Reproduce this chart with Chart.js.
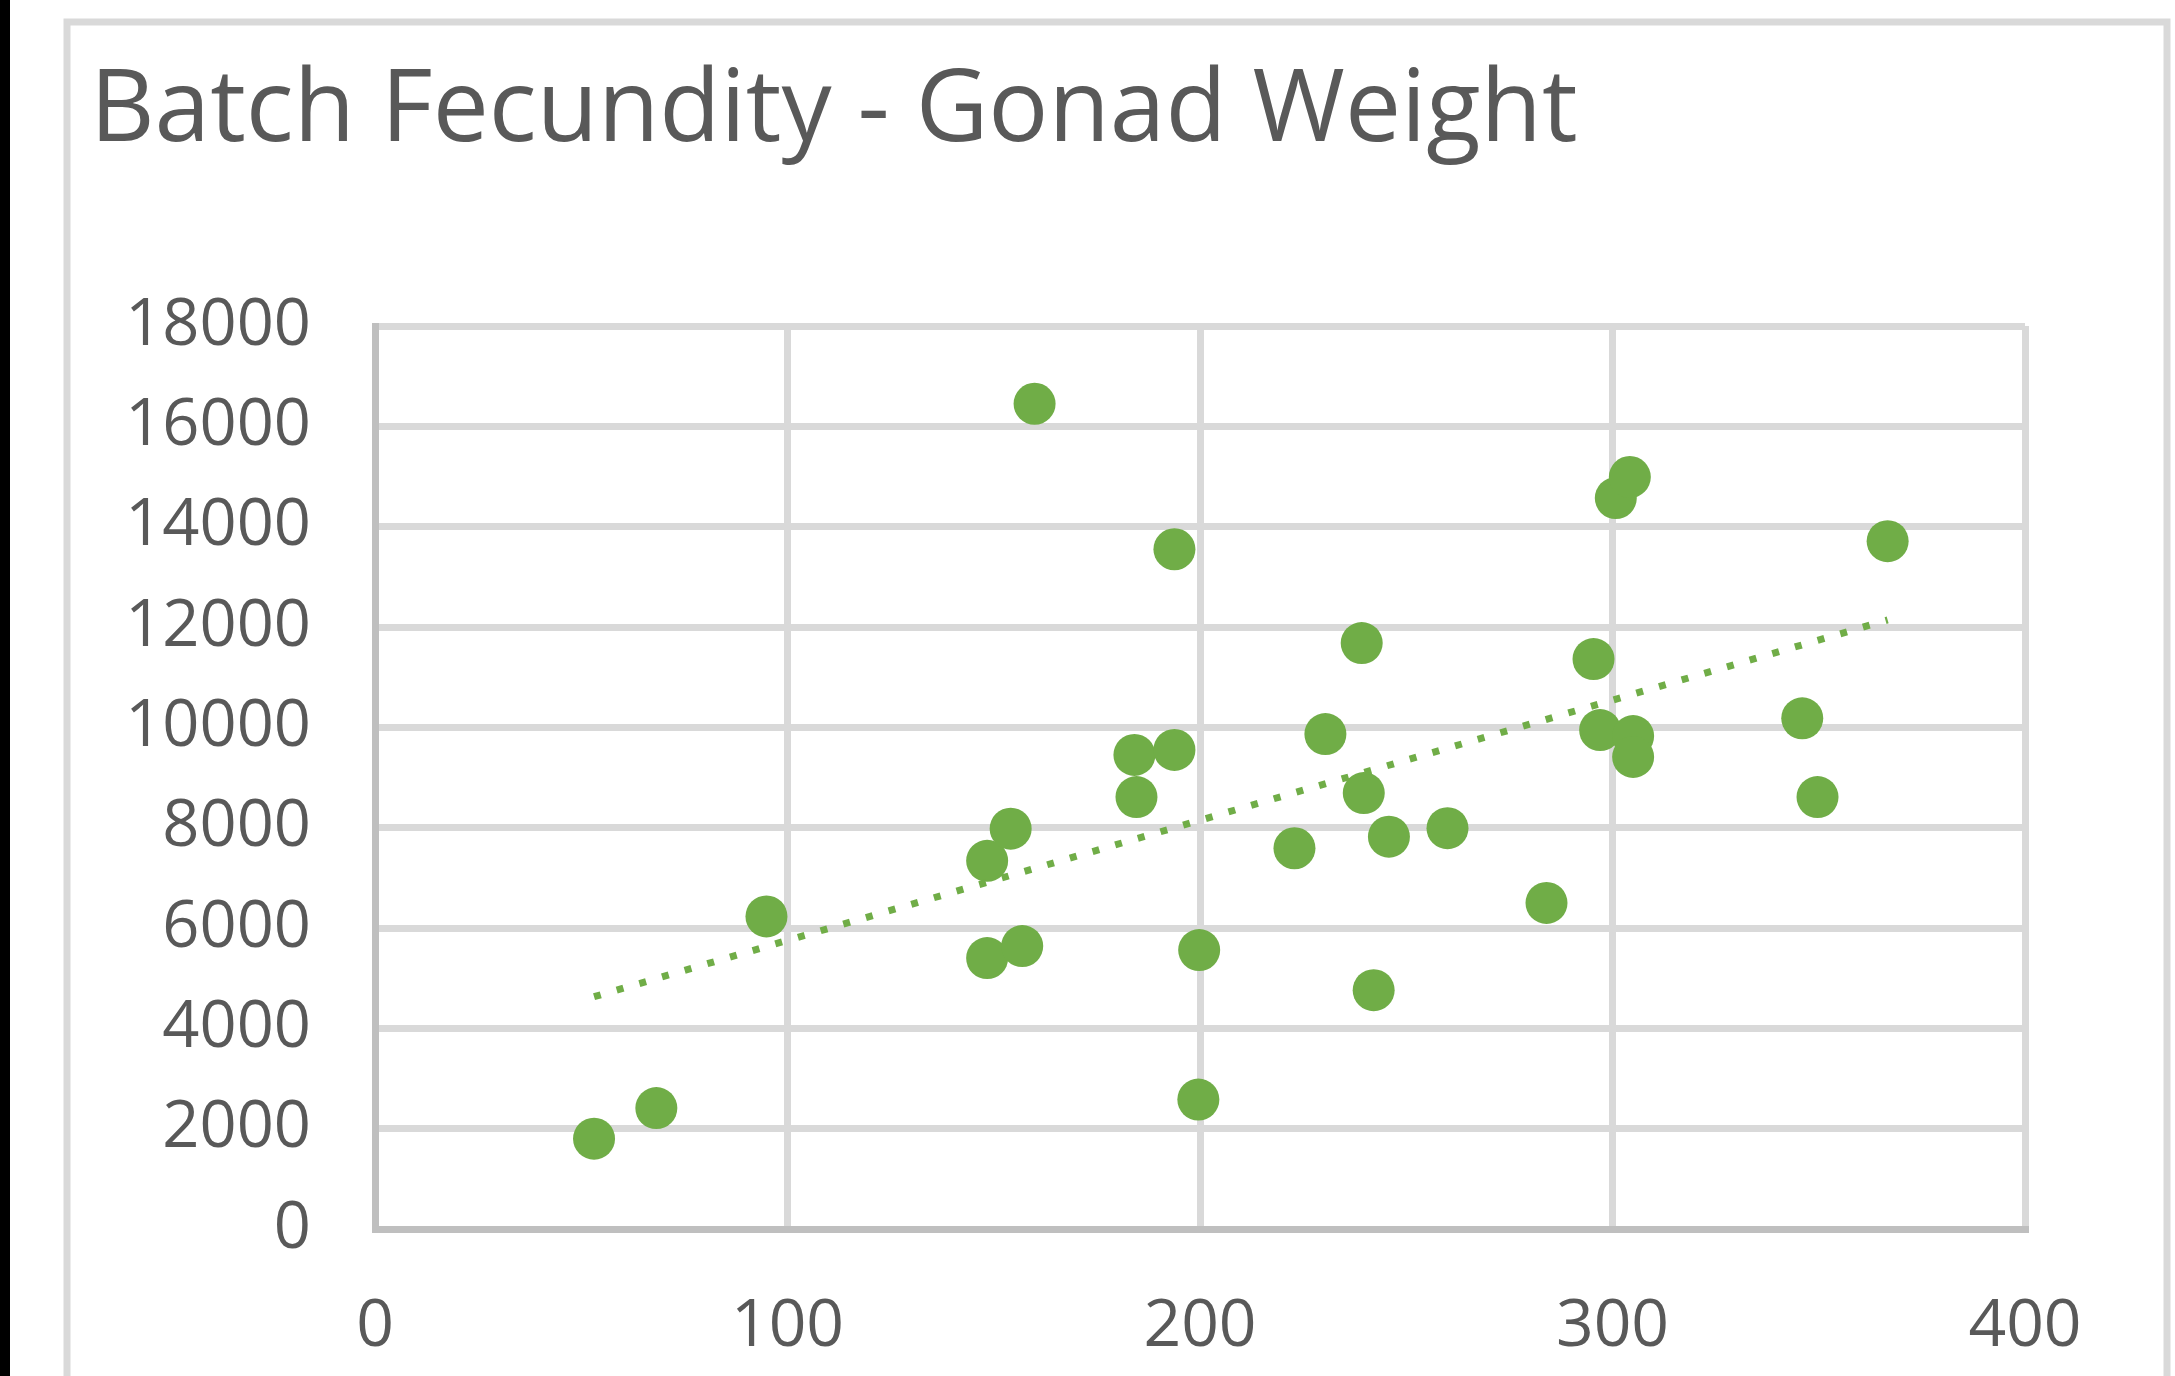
<!DOCTYPE html>
<html lang="en"><head><meta charset="UTF-8">
<title>Batch Fecundity - Gonad Weight</title>
<script src="https://cdn.jsdelivr.net/npm/chart.js@4/dist/chart.umd.min.js"></script>
<style>
*{margin:0;padding:0;box-sizing:border-box}
body{background:#fff;width:2175px;height:1376px;overflow:hidden}
canvas{display:block}
</style></head><body>
<canvas id="c" width="2175" height="1376"></canvas>
<script>
// values
const gonadWeight = [53.1, 68.2, 94.9, 148.4, 154.1, 148.4, 156.9, 159.9, 184.1, 193.8, 184.6, 193.8, 199.8, 199.6, 222.9, 230.4,
  239.2, 239.7, 242.1, 245.8, 260, 284, 295.4, 297, 305, 305, 300.8, 304.2, 346, 349.7, 366.7];
const batchFecundity = [1800, 2410, 6230, 7340, 7980, 5400, 5640, 16450, 9450, 9550, 8610, 13550, 5560, 2580, 7590, 9865,
  11680, 8690, 4760, 7820, 7990, 6500, 11360, 9945, 9825, 9410, 14570, 14990, 10180, 8610, 13710];
const trendX = [53.1, 366.7];
const trendY = [4630, 12140];
const chartTitle = 'Batch Fecundity - Gonad Weight';

const green = '#70ad47', grey = '#595959';
const font = '"Open Sans", Lato, sans-serif';

const frame = {
  id: 'frame',
  beforeDraw(chart) {
    const c = chart.ctx;
    c.save();
    c.fillStyle = '#fff'; c.fillRect(0, 0, chart.width, chart.height);
    c.fillStyle = '#000'; c.fillRect(0, 0, 10, chart.height);
    c.strokeStyle = '#d9d9d9'; c.lineWidth = 7;
    c.strokeRect(67, 22, 2100, 1400);
    c.fillStyle = grey; c.font = '100px ' + font; c.textBaseline = 'alphabetic';
    c.fillText(chartTitle, 90, 141);
    c.restore();
  }
};

new Chart(document.getElementById('c'), {
  type: 'scatter',
  data: {
    datasets: [
      { label: 'Trend', data: trendX.map((x, i) => ({ x, y: trendY[i] })), showLine: true, borderColor: green,
        borderWidth: 7, borderDash: [7, 16.6], borderCapStyle: 'butt', pointRadius: 0, fill: false },
      { label: 'Batch Fecundity', data: gonadWeight.map((x, i) => ({ x, y: batchFecundity[i] })),
        backgroundColor: green, borderColor: green, borderWidth: 0, pointRadius: 21, pointHoverRadius: 21 }
    ]
  },
  options: {
    responsive: false, animation: false,
    layout: { padding: { left: 0, right: 150, top: 326, bottom: 17 } },
    plugins: { legend: { display: false }, title: { display: false }, tooltip: { enabled: false } },
    scales: {
      x: {
        type: 'linear', min: 0, max: 400,
        ticks: { stepSize: 100, color: grey, font: { family: font, size: 66 }, padding: 59, callback: v => String(v) },
        grid: { color: '#d9d9d9', lineWidth: 7, drawTicks: false },
        border: { color: '#bfbfbf', width: 7 },
        afterFit(s) { s.height = 130; }
      },
      y: {
        min: 0, max: 18000,
        ticks: { stepSize: 2000, color: grey, font: { family: font, size: 65 }, padding: 64, callback: v => String(v) },
        grid: { color: '#d9d9d9', lineWidth: 7, drawTicks: false },
        border: { color: '#bfbfbf', width: 7 },
        afterFit(s) { s.width = 375; }
      }
    }
  },
  plugins: [frame]
});
</script>
</body></html>
